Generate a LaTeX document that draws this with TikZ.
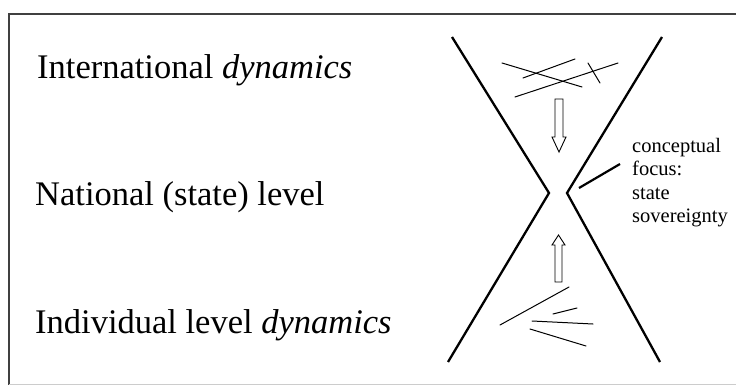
\documentclass[tikz,border=0pt]{standalone}
\usepackage{fontspec}
\setmainfont{Liberation Serif}
\usepackage{tikz}
\usetikzlibrary{positioning}
\tikzset{%
	level label/.style={
		anchor=base west,
		inner sep=0pt,
		font=\fontsize{34.5}{40}\selectfont
	},
	focus label/.style={
		anchor=north west,
		inner sep=0pt,
		align=left,
		font=\fontsize{20.5}{23.5}\selectfont
	},
	funnel/.style={line width=2.3pt, line join=miter},
	scribble/.style={line width=1pt, line cap=round},
	hollow arrow/.style={line width=0.9pt, fill=white, line join=miter},
}
\begin{document}
\begin{tikzpicture}[x=1pt,y=-1pt]
		\useasboundingbox (0,0) rectangle (736,385);
		% Draw the frame
		\draw[line width=1.6pt, black!75] (736,14) -- (9,14) -- (9,385);
		\draw[line width=0.8pt, black!20] (9,384) -- (736,384);
		
		% The three levels
		\node[level label] (intl) at (37,79) {International \textit{dynamics}};
		\node[level label] (natl) at (35,205) {National (state) level};
		\node[level label] (indiv) at (35,333) {Individual level \textit{dynamics}};
		
		% Draw the funnel
		\coordinate (lt) at (452,37);
		\coordinate (lm) at (549,193);
		\coordinate (lb) at (448,362);
		\coordinate (rt) at (662,37);
		\coordinate (rm) at (567,193);
		\coordinate (rb) at (660,362);
		\draw[funnel] (lt) -- (lm) -- (lb);
		\draw[funnel] (rt) -- (rm) -- (rb);
		
		% Scribbles at the top
		\draw[scribble] (502,63) -- (582,87);
		\draw[scribble] (523,78) -- (575,59);
		\draw[scribble] (515,97) -- (618,63);
		\draw[scribble] (588,63) -- (600,83);
		
		% Scribbles at the bottom
		\draw[scribble] (500,325) -- (569,287);
		\draw[scribble] (553,314) -- (577,308);
		\draw[scribble] (532,321) -- (593,324);
		\draw[scribble] (530,329) -- (586,346);
		
		% Draw the hollow arrows
		\draw[hollow arrow] (555,99) -- (563,99) -- (563,137) -- (566,137)
			-- (559,152) -- (552,137) -- (555,137) -- cycle;
		\draw[hollow arrow] (555,282) -- (562,282) -- (562,245) -- (565,245)
			-- (558.5,235) -- (552,245) -- (555,245) -- cycle;
		
		% Label and pointer
		\node[focus label] (focus) at (632,138) {conceptual\\focus:\\state\\sovereignty};
		\coordinate (tip) at (579,188);
		\draw[line width=2.2pt] (620,164) -- (tip);
	\end{tikzpicture}
\end{document}
